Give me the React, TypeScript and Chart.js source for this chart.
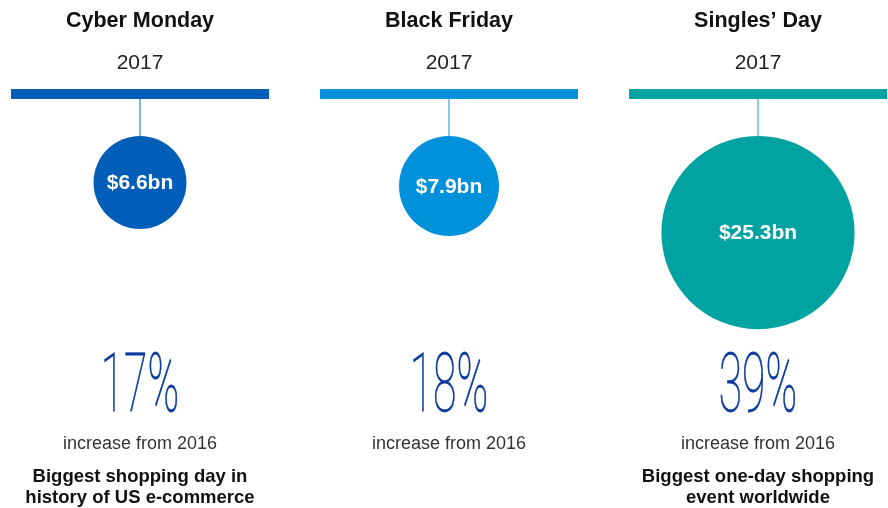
import React, { useEffect, useRef } from "react";
import { Chart, registerables } from "chart.js";

Chart.register(...registerables);

const events = ["Cyber Monday", "Black Friday", "Singles\u2019 Day"];
const years = ["2017", "2017", "2017"];
const salesBn = [6.6, 7.9, 25.3];
const growthPct = [17, 18, 39];
const growthNote = "increase from 2016";
const footnotes: string[][] = [
  ["Biggest shopping day in", "history of US e-commerce"],
  [],
  ["Biggest one-day shopping", "event worldwide"],
];
const colors = ["#005EB8", "#0091DA", "#00A3A1"];
const connectorColors = ["#5B9BD8", "#5BB6E6", "#5CC4C2"];
const PCT_COLOR = "#0A3A9A";

const FONT = '"Liberation Sans", Arial, Helvetica, sans-serif';
const BAR_TOP = 89;
const BAR_H = 10;
const BAR_HALF = 129;
const BUBBLE_TOP = 136;
const radiusFor = (v: number) => 28.8 + 2.68 * v;

export default function App() {
  const ref = useRef<HTMLCanvasElement | null>(null);

  useEffect(() => {
    document.body.style.margin = "0";
    const canvas = ref.current;
    if (!canvas) return;

    const infoPlugin = {
      id: "infoPlugin",
      beforeDatasetsDraw(chart: any) {
        const ctx = chart.ctx as CanvasRenderingContext2D;
        const xs = chart.scales.x;
        const meta = chart.getDatasetMeta(0);
        ctx.save();
        events.forEach((_, i) => {
          const cx = xs.getPixelForValue(i);
          const el = meta.data[i] as any;
          const r = el.options.radius;
          ctx.fillStyle = colors[i];
          ctx.fillRect(cx - BAR_HALF, BAR_TOP, BAR_HALF * 2, BAR_H);
          ctx.strokeStyle = connectorColors[i];
          ctx.lineWidth = 1.5;
          ctx.beginPath();
          ctx.moveTo(cx, BAR_TOP + BAR_H);
          ctx.lineTo(cx, el.y - r + 1);
          ctx.stroke();
        });
        ctx.restore();
      },
      afterDatasetsDraw(chart: any) {
        const ctx = chart.ctx as CanvasRenderingContext2D;
        const xs = chart.scales.x;
        const meta = chart.getDatasetMeta(0);
        ctx.save();
        ctx.textAlign = "center";
        ctx.textBaseline = "alphabetic";
        events.forEach((name, i) => {
          const cx = xs.getPixelForValue(i);
          const el = meta.data[i] as any;
          ctx.fillStyle = "#111";
          ctx.font = `bold 21.5px ${FONT}`;
          ctx.fillText(name, cx, 27);
          ctx.fillStyle = "#222";
          ctx.font = `21px ${FONT}`;
          ctx.fillText(years[i], cx, 69);
          ctx.fillStyle = "#ffffff";
          ctx.font = `bold 21px ${FONT}`;
          ctx.textBaseline = "middle";
          ctx.fillText(`$${salesBn[i]}bn`, cx, el.y + 1);
          ctx.textBaseline = "alphabetic";
          ctx.save();
          ctx.translate(cx, 410.5);
          ctx.scale(0.52, 1);
          ctx.fillStyle = PCT_COLOR;
          ctx.strokeStyle = PCT_COLOR;
          ctx.lineWidth = 0.8;
          ctx.font = `100 82px Roboto, ${FONT}`;
          ctx.fillText(`${growthPct[i]}%`, 0, 0);
          ctx.strokeText(`${growthPct[i]}%`, 0, 0);
          ctx.restore();
          ctx.fillStyle = "#333";
          ctx.font = `18px ${FONT}`;
          ctx.fillText(growthNote, cx, 449);
          ctx.fillStyle = "#111";
          ctx.font = `bold 18.5px ${FONT}`;
          footnotes[i].forEach((line, j) => {
            ctx.fillText(line, cx, 482 + j * 21);
          });
        });
        ctx.restore();
      },
    };

    const chart = new Chart(canvas, {
      type: "bubble",
      data: {
        datasets: [
          {
            data: salesBn.map((v, i) => ({
              x: i,
              y: BUBBLE_TOP + radiusFor(v),
              r: radiusFor(v),
            })),
            backgroundColor: colors,
            borderWidth: 0,
            hoverRadius: 0,
            clip: false,
          },
        ],
      },
      options: {
        animation: false,
        responsive: false,
        maintainAspectRatio: false,
        events: [],
        layout: { padding: 0, autoPadding: false },
        plugins: {
          legend: { display: false },
          tooltip: { enabled: false },
        },
        scales: {
          x: { type: "linear", display: false, min: -140 / 309, max: 748 / 309 },
          y: { type: "linear", display: false, min: 0, max: 508, reverse: true },
        },
      },
      plugins: [infoPlugin],
    });

    return () => chart.destroy();
  }, []);

  return (
    <div style={{ width: 888, height: 508 }}>
      <canvas ref={ref} width={888} height={508} style={{ display: "block" }} />
    </div>
  );
}
